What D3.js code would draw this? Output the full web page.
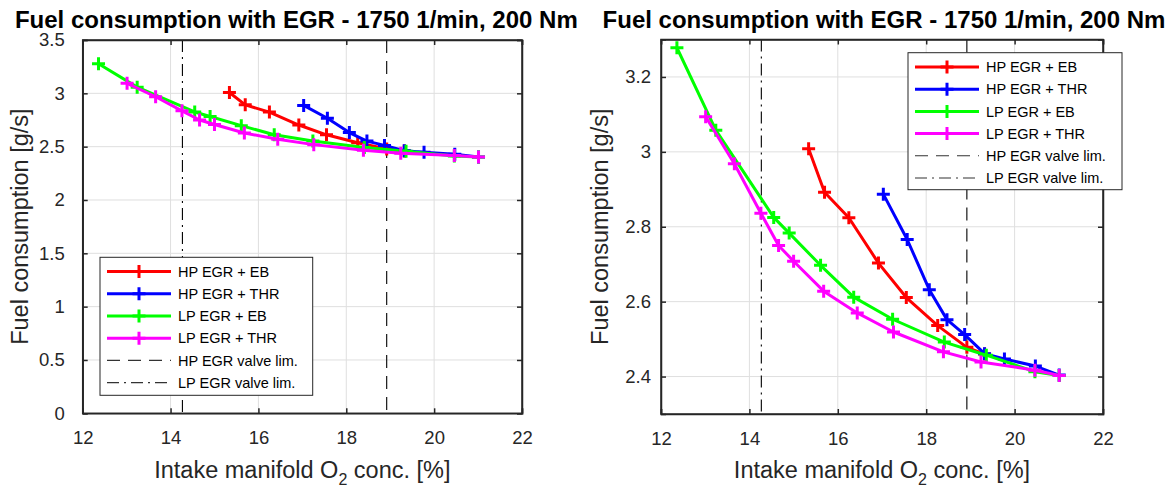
<!DOCTYPE html>
<html><head><meta charset="utf-8">
<script src="https://cdn.jsdelivr.net/npm/d3@7"></script>
<style>
body{margin:0;background:#fff}
svg{display:block}
text{font-family:"Liberation Sans",Arial,Helvetica,sans-serif;fill:#262626}
</style>
</head><body>
<svg id="chart" width="1171" height="488"></svg>
<script>
// ---------------- data ----------------
const titleText = "Fuel consumption with EGR - 1750 1/min, 200 Nm";
const yLabelText = "Fuel consumption [g/s]";
const xTicks = [12, 14, 16, 18, 20, 22];
const yTicksLeft = [0, 0.5, 1, 1.5, 2, 2.5, 3, 3.5];
const yTicksRight = [2.4, 2.6, 2.8, 3, 3.2];
const xDomain = [12, 22];
const yDomainLeft = [0, 3.5];
const yDomainRight = [2.3, 3.3];

const seriesNames = ["HP EGR + EB", "HP EGR + THR", "LP EGR + EB", "LP EGR + THR"];
const seriesColors = ["#ff0000", "#0000ff", "#00ff00", "#ff00ff"];

const hpEbX  = [15.34, 15.70, 16.25, 16.92, 17.55, 18.26, 18.92, 19.32];
const hpEbY  = [3.008, 2.892, 2.824, 2.703, 2.611, 2.536, 2.478, 2.460];
const hpThrX = [17.03, 17.57, 18.07, 18.47, 18.87, 19.32, 19.77, 20.47, 21.01];
const hpThrY = [2.887, 2.766, 2.632, 2.552, 2.512, 2.461, 2.447, 2.428, 2.404];
const lpEbX  = [12.36, 13.24, 14.55, 14.90, 15.61, 16.36, 17.24, 18.41, 19.36, 20.46, 21.01];
const lpEbY  = [3.278, 3.058, 2.825, 2.783, 2.697, 2.612, 2.553, 2.492, 2.457, 2.413, 2.403];
const lpThrX = [13.01, 13.66, 14.26, 14.66, 15.00, 15.68, 16.44, 17.26, 18.39, 19.24, 20.46, 21.01];
const lpThrY = [3.094, 2.968, 2.836, 2.750, 2.708, 2.628, 2.570, 2.519, 2.466, 2.439, 2.417, 2.403];

const valveNames = ["HP EGR valve lim.", "LP EGR valve lim."];
const valveX = [18.92, 14.27];
const valveDash = ["13,8", "12,5,2,5"];

const seriesX = [hpEbX, hpThrX, lpEbX, lpThrX];
const seriesY = [hpEbY, hpThrY, lpEbY, lpThrY];
const series = seriesNames.map((n, i) => ({
  name: n, color: seriesColors[i],
  pts: seriesX[i].map((x, j) => ({x, y: seriesY[i][j]}))
}));

// ---------------- drawing ----------------
const svg = d3.select("#chart");
const AX = "#262626";
const TICK_FS = 18.5, LABEL_FS = 23.5, TITLE_FS = 24, LEG_FS = 14.5;

function panel(cfg) {
  const x = d3.scaleLinear().domain(xDomain).range([cfg.x0, cfg.x1]);
  const y = d3.scaleLinear().domain(cfg.yDomain).range([cfg.y1, cfg.y0]);
  const g = svg.append("g");

  // grid
  g.append("g").selectAll("line").data(xTicks).join("line")
    .attr("x1", d => x(d)).attr("x2", d => x(d)).attr("y1", cfg.y0).attr("y2", cfg.y1)
    .attr("stroke", "#dfdfdf").attr("stroke-width", 1);
  g.append("g").selectAll("line").data(cfg.yTicks).join("line")
    .attr("y1", d => y(d)).attr("y2", d => y(d)).attr("x1", cfg.x0).attr("x2", cfg.x1)
    .attr("stroke", "#dfdfdf").attr("stroke-width", 1);

  // valve limit lines
  valveX.forEach((vx, i) => {
    g.append("line").attr("x1", x(vx)).attr("x2", x(vx)).attr("y1", cfg.y0).attr("y2", cfg.y1)
      .attr("stroke", "#000").attr("stroke-width", 1.1).attr("stroke-dasharray", valveDash[i]);
  });

  // series
  const line = d3.line().x(d => x(d.x)).y(d => y(d.y));
  series.forEach(s => {
    const sg = g.append("g");
    sg.append("path").datum(s.pts).attr("d", line).attr("fill", "none")
      .attr("stroke", s.color).attr("stroke-width", 3).attr("stroke-linejoin", "round");
    sg.selectAll("path.m").data(s.pts).join("path").attr("class", "m")
      .attr("transform", d => `translate(${x(d.x)},${y(d.y)})`)
      .attr("d", "M-6.5,0H6.5M0,-6.5V6.5").attr("stroke", s.color).attr("stroke-width", 3);
  });

  // axes (ticks inward, box)
  const tl = 5;
  const axB = g.append("g").attr("transform", `translate(0,${cfg.y1})`)
    .call(d3.axisBottom(x).tickValues(xTicks).tickSize(-tl).tickPadding(tl + 13).tickFormat(d => d));
  const axT = g.append("g").attr("transform", `translate(0,${cfg.y0})`)
    .call(d3.axisTop(x).tickValues(xTicks).tickSize(-tl).tickFormat(""));
  const axL = g.append("g").attr("transform", `translate(${cfg.x0},0)`)
    .call(d3.axisLeft(y).tickValues(cfg.yTicks).tickSize(-tl).tickPadding(tl + cfg.ypad).tickFormat(d => d));
  const axR = g.append("g").attr("transform", `translate(${cfg.x1},0)`)
    .call(d3.axisRight(y).tickValues(cfg.yTicks).tickSize(-tl).tickFormat(""));
  [axB, axT, axL, axR].forEach(a => {
    a.select(".domain").attr("stroke", AX).attr("stroke-width", 1.5);
    a.selectAll(".tick line").attr("stroke", AX).attr("stroke-width", 1.5);
    a.selectAll(".tick text").attr("fill", AX).style("font-size", TICK_FS + "px")
      .style("font-family", '"Liberation Sans",Arial,sans-serif');
  });
  // box outline
  g.append("rect").attr("x", cfg.x0).attr("y", cfg.y0).attr("width", cfg.x1 - cfg.x0)
    .attr("height", cfg.y1 - cfg.y0).attr("fill", "none").attr("stroke", AX).attr("stroke-width", 1.5);

  // title
  const cx = (cfg.x0 + cfg.x1) / 2;
  g.append("text").attr("x", cx + cfg.titleShift).attr("y", 28).attr("text-anchor", "middle")
    .style("font-size", TITLE_FS + "px").style("font-weight", "bold")
    .style("fill", "#000").text(titleText);

  // x label with subscript
  const xl = g.append("text").attr("x", cx).attr("y", 478).attr("text-anchor", "middle")
    .style("font-size", LABEL_FS + "px");
  xl.append("tspan").text("Intake manifold O");
  xl.append("tspan").attr("dy", 7).style("font-size", "16px").text("2");
  xl.append("tspan").attr("dy", -7).text(" conc. [%]");

  // y label
  const cy = (cfg.y0 + cfg.y1) / 2;
  g.append("text").attr("transform", `translate(${cfg.x0 - cfg.ylabOff},${cy}) rotate(-90)`)
    .attr("text-anchor", "middle").style("font-size", LABEL_FS + "px").text(yLabelText);

  // legend
  const L = cfg.legend;
  const lg = g.append("g").attr("transform", `translate(${L.x},${L.y})`);
  lg.append("rect").attr("width", L.w).attr("height", L.h).attr("fill", "#fff")
    .attr("stroke", AX).attr("stroke-width", 1);
  const entries = series.map(s => ({name: s.name, color: s.color, type: "s"}))
    .concat(valveNames.map((n, i) => ({name: n, color: "#262626", type: "v", dash: valveDash[i]})));
  entries.forEach((e, i) => {
    const ey = 14.3 + i * 22.2;
    if (e.type === "s") {
      lg.append("line").attr("x1", 7).attr("x2", 71).attr("y1", ey).attr("y2", ey)
        .attr("stroke", e.color).attr("stroke-width", 3);
      lg.append("path").attr("transform", `translate(39,${ey})`).attr("d", "M-6.5,0H6.5M0,-6.5V6.5")
        .attr("stroke", e.color).attr("stroke-width", 3);
    } else {
      lg.append("line").attr("x1", 7).attr("x2", 71).attr("y1", ey).attr("y2", ey)
        .attr("stroke", "#333").attr("stroke-width", 1.1).attr("stroke-dasharray", e.dash);
    }
    lg.append("text").attr("x", 78).attr("y", ey + 5.2).style("font-size", LEG_FS + "px")
      .style("fill", "#000").text(e.name);
  });
}

panel({x0: 82.7, x1: 522, y0: 40, y1: 413.3, yDomain: yDomainLeft, yTicks: yTicksLeft,
  ypad: 13, ylabOff: 55, titleShift: -6,
  legend: {x: 100, y: 257.3, w: 212.7, h: 138}});
panel({x0: 661, x1: 1103, y0: 39.5, y1: 414, yDomain: yDomainRight, yTicks: yTicksRight,
  ypad: 5, ylabOff: 53, titleShift: 2,
  legend: {x: 908, y: 52.7, w: 214, h: 137}});
</script>
</body></html>
